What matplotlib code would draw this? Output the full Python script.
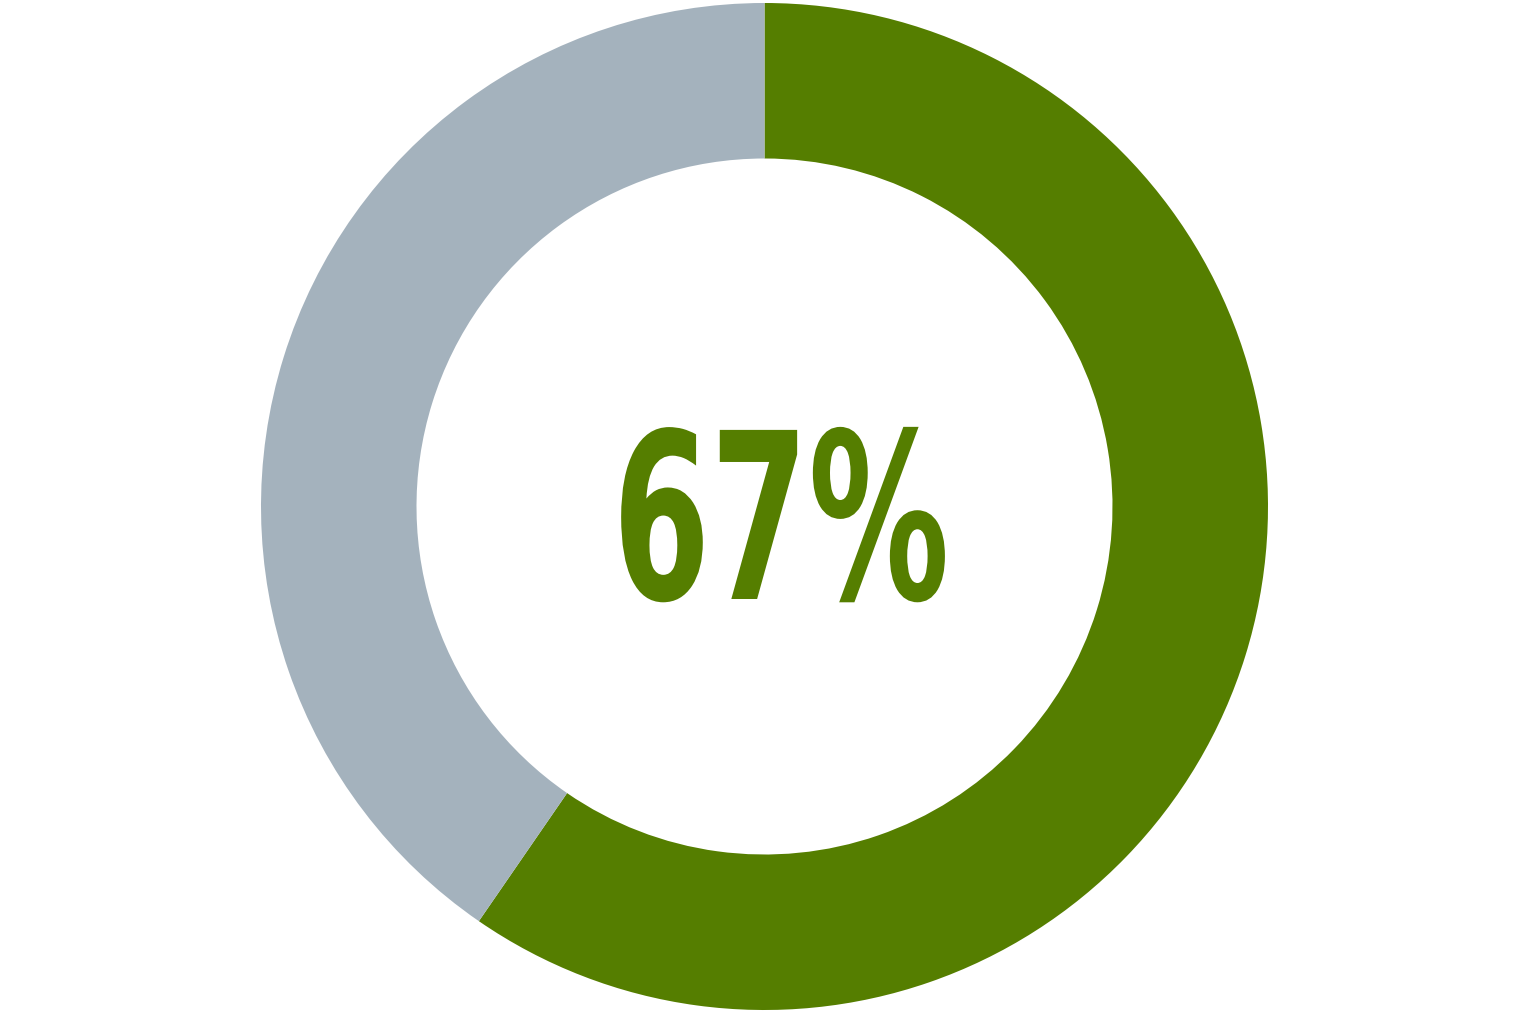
import matplotlib
matplotlib.use("Agg")
import matplotlib.pyplot as plt
from matplotlib import patheffects
from matplotlib.transforms import Affine2D

labels = ["Yes", "No"]
values = [59.6, 40.4]
colors = ["#557E00", "#A4B2BD"]
center_label = "67%"

W, H = 1530, 1014
fig = plt.figure(figsize=(W / 100, H / 100), dpi=100)
ax = fig.add_axes([0, 0, 1, 1])

ax.pie(values, colors=colors, startangle=90, counterclock=False,
       center=(764.5, 507.5), radius=503.5,
       wedgeprops=dict(width=503.5 - 348, linewidth=0))
ax.set_xlim(0, W)
ax.set_ylim(0, H)
ax.set_aspect("equal")
ax.axis("off")


class Squeeze(patheffects.AbstractPathEffect):
    # narrow the glyphs horizontally around x = cx (display pixels)
    def __init__(self, sx, cx):
        super().__init__()
        self.sx = sx
        self.cx = cx

    def draw_path(self, renderer, gc, tpath, affine, rgbFace=None):
        squeeze = Affine2D().translate(-self.cx, 0).scale(self.sx, 1).translate(self.cx, 0)
        renderer.draw_path(gc, tpath, affine + squeeze, rgbFace)


tx, ty = 781, 479
cx = ax.transData.transform((tx, ty))[0]
ax.text(tx, ty, center_label, ha="center", va="center",
        fontsize=167, fontweight="bold", color=colors[0], family="DejaVu Sans",
        path_effects=[Squeeze(0.607, cx)])

fig.savefig("out.png", dpi=100)
